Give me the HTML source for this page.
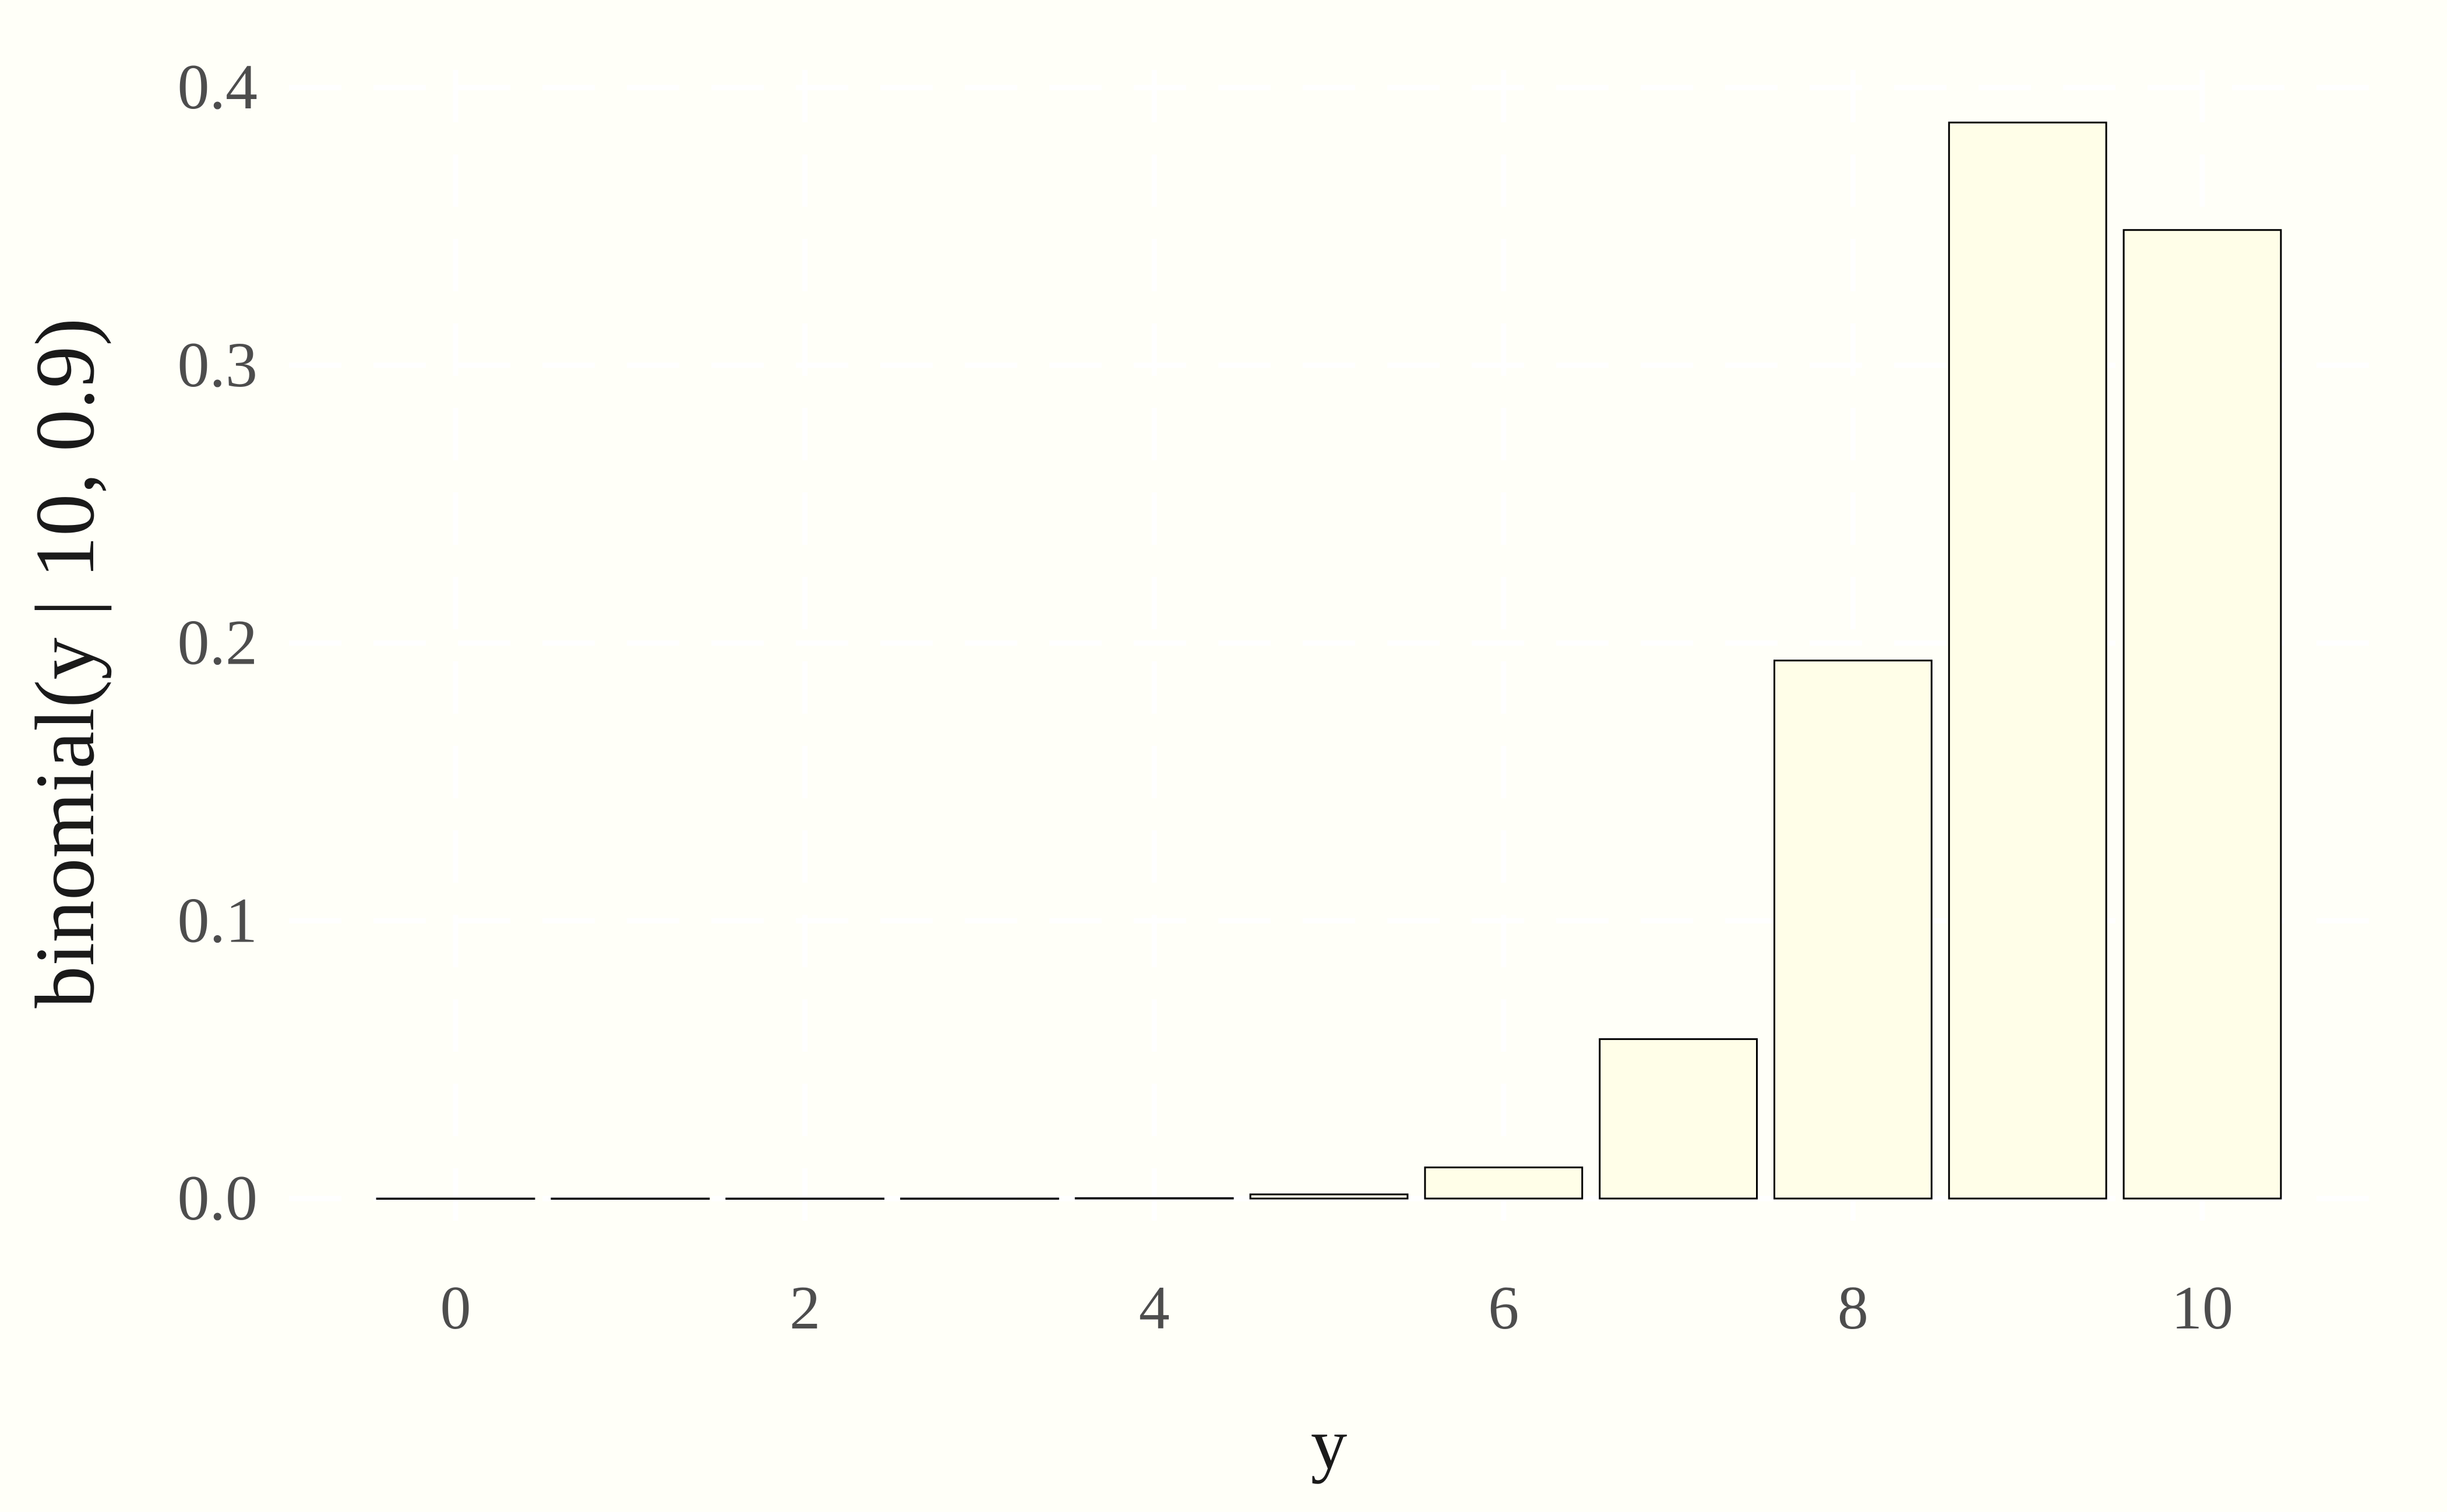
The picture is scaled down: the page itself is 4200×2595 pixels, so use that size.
<!DOCTYPE html>
<html><head><meta charset="utf-8"><style>
html,body{margin:0;padding:0;background:#fffff8;}
svg{display:block;}
text{font-family:"Liberation Serif",serif;}
</style></head><body>
<svg id="chart" width="4200" height="2595" viewBox="0 0 4200 2595" xmlns="http://www.w3.org/2000/svg">
<rect x="0" y="0" width="4200" height="2595" fill="#fffff8"/>
<g id="grid"></g>
<g id="bars"></g>
<g id="yticks"></g>
<g id="xticks"></g>
<text x="2281" y="2520" font-size="125" fill="#1a1a1a" text-anchor="middle">y</text>
<text transform="translate(160,1138) rotate(-90)" font-size="145" fill="#1a1a1a" text-anchor="middle">binomial(y | 10, 0.9)</text>
</svg>
<script>
const categories = [0,1,2,3,4,5,6,7,8,9,10];
const probabilities = [0.0000000001,0.000000009,0.00000036,0.0000087,0.000138,0.00149,0.0112,0.0574,0.1937,0.3874,0.3487];
const yTicks = [0,0.1,0.2,0.3,0.4];
const yTickLabels = ["0.0","0.1","0.2","0.3","0.4"];
const xTicks = [0,2,4,6,8,10];
const xTickLabels = ["0","2","4","6","8","10"];

(function(){
const NS = "http://www.w3.org/2000/svg";
const X0 = 782, XU = 299.8, Y0 = 2057, YU = 4767;
function xs(v){ return X0 + v*XU; }
function ys(v){ return Y0 - v*YU; }
function mk(tag, attrs, parent){
  const e = document.createElementNS(NS, tag);
  for (const k in attrs) e.setAttribute(k, attrs[k]);
  parent.appendChild(e);
  return e;
}
const grid = document.getElementById('grid');
const gLeft = 496, gRight = 4085, gTop = 120, gBottom = 2110;
for (let i = 0; i < yTicks.length; i++) {
  const y = ys(yTicks[i]);
  const l = mk('line', {x1:gLeft, x2:gRight, y1:y, y2:y, stroke:'#ffffff', 'stroke-width':9, 'stroke-dasharray':'90 55'}, grid);
  
  
}
for (let i = 0; i < xTicks.length; i++) {
  const x = xs(xTicks[i]);
  const l = mk('line', {x1:x, x2:x, y1:gTop, y2:gBottom, stroke:'#ffffff', 'stroke-width':9, 'stroke-dasharray':'90 55'}, grid);
  
  
}
const bars = document.getElementById('bars');
const bw = 0.9*XU;
for (let i = 0; i < categories.length; i++) {
  const x = xs(categories[i]) - bw/2;
  const y = ys(probabilities[i]);
  const r = mk('rect', {x:x, y:y, width:bw, height:Math.max(Y0 - y, 0.5), fill:'#fffee8', stroke:'#000000', 'stroke-width':3}, bars);
  
  
}
const yt = document.getElementById('yticks');
for (let i = 0; i < yTicks.length; i++) {
  const t = mk('text', {x:442, y:ys(yTicks[i]) + 36, 'font-size':110, fill:'#4d4d4d', 'text-anchor':'end'}, yt);
  t.textContent = yTickLabels[i];
  
  
}
const xt = document.getElementById('xticks');
for (let i = 0; i < xTicks.length; i++) {
  const t = mk('text', {x:xs(xTicks[i]), y:2280, 'font-size':106, fill:'#4d4d4d', 'text-anchor':'middle'}, xt);
  t.textContent = xTickLabels[i];
  
  
}
})();
</script>
</body></html>
